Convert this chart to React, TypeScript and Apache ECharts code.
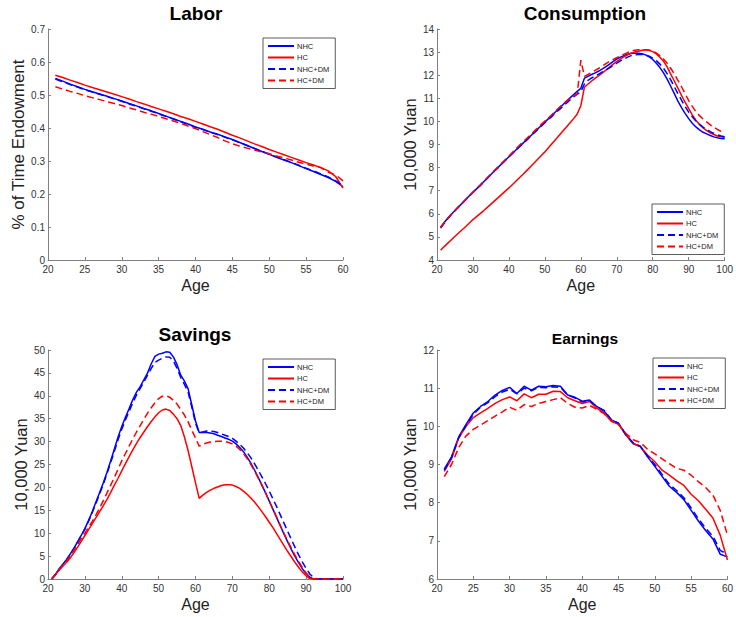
import React, { useEffect, useRef } from "react";
import * as echarts from "echarts";

// Ages
const agesWork = Array.from({ length: 40 }, (_, i) => 21 + i);
const agesLife = Array.from({ length: 80 }, (_, i) => 21 + i);

const seriesNames = ["NHC", "HC", "NHC+DM", "HC+DM"];

// Labor (% of time endowment), ages 21-60
const laborNHC = [0.550,0.542,0.533,0.525,0.517,0.510,0.503,0.496,0.489,0.482,
  0.474,0.467,0.459,0.452,0.444,0.436,0.428,0.420,0.412,0.403,
  0.396,0.388,0.381,0.373,0.365,0.356,0.347,0.338,0.329,0.320,
  0.311,0.303,0.295,0.286,0.277,0.268,0.259,0.250,0.238,0.222];
const laborHC = [0.560,0.553,0.545,0.538,0.530,0.523,0.516,0.509,0.502,0.495,
  0.488,0.480,0.473,0.465,0.458,0.451,0.443,0.435,0.428,0.420,
  0.412,0.404,0.396,0.387,0.378,0.370,0.361,0.352,0.344,0.335,
  0.327,0.319,0.311,0.303,0.295,0.288,0.280,0.270,0.253,0.218];
const laborNHCDM = [0.548,0.540,0.532,0.524,0.516,0.509,0.502,0.495,0.488,0.481,
  0.473,0.466,0.458,0.451,0.443,0.435,0.427,0.419,0.411,0.402,
  0.395,0.387,0.380,0.372,0.364,0.356,0.347,0.338,0.329,0.321,
  0.312,0.304,0.296,0.287,0.278,0.270,0.261,0.252,0.240,0.225];
const laborHCDM = [0.525,0.518,0.511,0.505,0.498,0.492,0.486,0.480,0.474,0.468,
  0.461,0.455,0.448,0.442,0.435,0.428,0.421,0.414,0.406,0.398,
  0.389,0.380,0.371,0.361,0.352,0.345,0.339,0.333,0.327,0.322,
  0.315,0.309,0.303,0.296,0.290,0.285,0.280,0.266,0.258,0.240];

// Consumption (10,000 Yuan), ages 21-100
const consNHC = [5.42,5.62,5.81,5.98,6.14,6.30,6.46,6.62,6.78,6.93,
  7.08,7.23,7.39,7.55,7.70,7.86,8.01,8.17,8.32,8.47,
  8.62,8.77,8.92,9.07,9.22,9.37,9.52,9.67,9.82,9.97,
  10.12,10.27,10.42,10.57,10.72,10.87,11.02,11.16,11.30,11.43,
  11.87,11.95,12.03,12.10,12.18,12.27,12.37,12.48,12.60,12.70,
  12.78,12.85,12.91,12.95,12.96,12.95,12.93,12.88,12.80,12.68,
  12.52,12.33,12.10,11.83,11.52,11.20,10.88,10.60,10.35,10.12,
  9.92,9.76,9.63,9.53,9.46,9.39,9.33,9.29,9.26,9.25];
const consHC = [4.42,4.58,4.73,4.88,5.03,5.17,5.31,5.45,5.60,5.75,
  5.88,6.01,6.14,6.28,6.42,6.56,6.70,6.84,6.98,7.12,
  7.27,7.42,7.57,7.72,7.88,8.04,8.20,8.36,8.52,8.68,
  8.86,9.04,9.22,9.40,9.58,9.76,9.94,10.12,10.32,10.68,
  11.48,11.62,11.75,11.87,11.98,12.10,12.22,12.35,12.48,12.60,
  12.70,12.80,12.88,12.95,13.00,13.04,13.08,13.10,13.08,13.02,
  12.92,12.78,12.60,12.36,12.05,11.75,11.44,11.13,10.83,10.55,
  10.28,10.05,9.87,9.72,9.60,9.50,9.43,9.37,9.33,9.30];
const consNHCDM = [5.38,5.59,5.79,5.97,6.13,6.29,6.45,6.61,6.77,6.92,
  7.07,7.22,7.38,7.54,7.69,7.85,8.00,8.16,8.31,8.46,
  8.61,8.76,8.91,9.05,9.20,9.35,9.50,9.64,9.79,9.94,
  10.08,10.22,10.37,10.51,10.65,10.79,10.93,11.06,11.18,11.28,
  11.62,11.78,11.88,11.96,12.05,12.14,12.23,12.32,12.42,12.52,
  12.62,12.70,12.78,12.85,12.88,12.90,12.90,12.87,12.82,12.74,
  12.63,12.48,12.30,12.07,11.80,11.50,11.20,10.92,10.65,10.40,
  10.20,10.02,9.87,9.75,9.65,9.56,9.48,9.42,9.37,9.34];
const consHCDM = [5.40,5.61,5.81,5.99,6.15,6.31,6.47,6.63,6.79,6.94,
  7.09,7.25,7.41,7.57,7.73,7.88,8.03,8.19,8.35,8.50,
  8.66,8.82,8.98,9.13,9.27,9.42,9.57,9.72,9.87,10.01,
  10.15,10.30,10.45,10.60,10.75,10.88,11.00,11.10,11.18,12.65,
  11.95,12.03,12.12,12.21,12.30,12.40,12.50,12.60,12.68,12.76,
  12.84,12.91,12.98,13.04,13.08,13.10,13.10,13.10,13.08,13.04,
  12.96,12.85,12.70,12.52,12.30,12.05,11.78,11.50,11.20,10.90,
  10.65,10.42,10.25,10.10,9.98,9.85,9.75,9.65,9.57,9.50];

// Savings (10,000 Yuan), ages 21-100
const savNHC = [0,1.0,2.2,3.2,4.2,5.4,6.7,8.1,9.5,11.0,
  12.8,14.7,16.8,18.9,21.0,23.3,25.8,28.4,31.0,33.3,
  35.3,37.2,39.2,40.8,42.0,43.5,45.0,47.0,48.6,49.1,
  49.3,49.6,49.5,48.5,46.8,44.5,43.2,41.5,38.0,34.5,
  32.0,32.0,32.0,31.9,31.7,31.4,31.1,30.8,30.5,30.1,
  29.5,28.7,27.8,26.6,25.3,23.8,22.2,20.5,18.8,17.0,
  15.2,13.4,11.6,9.8,8.1,6.4,4.9,3.5,2.2,1.2,
  0.4,0,0,0,0,0,0,0,0,0];
const savHC = [0,0.9,1.9,2.8,3.6,4.6,5.7,6.9,8.2,9.5,
  10.8,12.1,13.4,14.7,16.0,17.4,18.9,20.5,22.0,23.6,
  25.2,26.7,28.2,29.6,30.9,32.1,33.3,34.4,35.4,36.3,
  36.9,37.1,36.8,36.0,35.0,33.5,31.0,28.0,24.5,21.0,
  17.6,18.3,18.9,19.4,19.8,20.1,20.4,20.6,20.6,20.5,
  20.2,19.8,19.2,18.5,17.7,16.8,15.8,14.7,13.6,12.4,
  11.2,9.9,8.6,7.3,6.0,4.8,3.6,2.5,1.5,0.7,
  0.1,0,0,0,0,0,0,0,0,0];
const savNHCDM = [0,1.0,2.1,3.1,4.1,5.3,6.6,8.0,9.4,10.9,
  12.6,14.5,16.5,18.6,20.7,23.0,25.4,27.9,30.4,32.7,
  34.7,36.6,38.5,40.2,41.6,43.0,44.5,46.0,47.3,47.8,
  48.2,48.5,48.4,47.6,46.0,44.0,42.5,40.8,37.5,34.0,
  31.9,32.1,32.3,32.3,32.2,32.0,31.7,31.4,31.1,30.7,
  30.1,29.4,28.6,27.6,26.5,25.2,23.8,22.3,20.8,19.2,
  17.5,15.8,14.0,12.2,10.4,8.6,6.9,5.2,3.7,2.3,
  1.1,0.3,0,0,0,0,0,0,0,0];
const savHCDM = [0,0.9,2.0,3.0,3.9,5.0,6.2,7.5,8.8,10.0,
  11.3,12.6,14.0,15.5,17.1,18.8,20.5,22.2,24.0,25.8,
  27.4,29.0,30.6,32.1,33.5,34.9,36.2,37.4,38.5,39.4,
  39.9,40.0,39.7,39.0,38.2,37.0,35.8,34.3,32.5,30.8,
  29.0,29.4,29.7,29.9,30.0,30.1,30.1,30.0,29.8,29.5,
  29.0,28.3,27.4,26.3,25.0,23.6,22.1,20.5,18.8,17.0,
  15.3,13.5,11.7,10.0,8.3,6.7,5.2,3.8,2.5,1.3,
  0.4,0,0,0,0,0,0,0,0,0];

// Earnings (10,000 Yuan), ages 21-60
const earnNHC = [8.88,9.20,9.73,10.05,10.35,10.52,10.65,10.82,10.94,11.02,
  10.86,11.05,10.95,11.05,11.04,11.07,11.05,10.82,10.76,10.66,
  10.69,10.52,10.40,10.17,10.08,9.78,9.55,9.47,9.20,8.95,
  8.69,8.43,8.27,8.08,7.80,7.52,7.27,7.05,6.65,6.58];
const earnHC = [8.82,9.15,9.70,10.00,10.23,10.35,10.47,10.60,10.70,10.77,
  10.67,10.85,10.75,10.84,10.84,10.92,10.91,10.75,10.67,10.60,
  10.65,10.48,10.35,10.13,10.05,9.80,9.55,9.47,9.25,9.07,
  8.85,8.72,8.58,8.45,8.22,8.05,7.83,7.60,7.15,6.50];
const earnNHCDM = [8.85,9.18,9.70,10.02,10.32,10.50,10.62,10.78,10.90,10.97,
  10.85,11.00,10.93,11.02,11.01,11.04,11.02,10.82,10.74,10.64,
  10.67,10.52,10.42,10.18,10.08,9.78,9.57,9.48,9.22,9.00,
  8.74,8.48,8.32,8.13,7.86,7.58,7.33,7.12,6.75,6.65];
const earnHCDM = [8.68,9.00,9.45,9.75,9.92,10.03,10.15,10.27,10.38,10.50,
  10.42,10.57,10.52,10.60,10.65,10.70,10.75,10.60,10.50,10.48,
  10.55,10.45,10.33,10.15,10.05,9.82,9.65,9.58,9.40,9.28,
  9.15,9.02,8.90,8.85,8.72,8.55,8.40,8.20,7.80,7.15];

const FONT = "'Liberation Sans', Arial, Helvetica, sans-serif";
const BLUE = "#0000ff";
const RED = "#ff0000";
const styles = [
  { color: BLUE, type: "solid" },
  { color: RED, type: "solid" },
  { color: BLUE, type: [7, 4] },
  { color: RED, type: [7, 4] },
];

const pair = (ages: number[], vals: number[]) => ages.map((a, i) => [a, vals[i]]);

export default function App() {
  const ref = useRef<HTMLDivElement>(null);
  useEffect(() => {
    if (!ref.current) return;
    const chart = echarts.init(ref.current, undefined, { renderer: "svg" });

    const grids = [
      { left: 48, top: 29, width: 295, height: 231 },
      { left: 437, top: 29, width: 296, height: 231 },
      { left: 48, top: 350, width: 295, height: 229 },
      { left: 437, top: 350, width: 296, height: 229 },
    ];
    const axisCommon = {
      axisLine: { show: true, onZero: false, lineStyle: { color: "#808080", width: 1 } },
      axisTick: { show: true, inside: true, length: 3, lineStyle: { color: "#808080" } },
      axisLabel: { color: "#333", fontSize: 10, fontFamily: FONT, margin: 3 },
      splitLine: { show: false },
    };
    const xRanges = [
      [20, 60, 5],
      [20, 100, 10],
      [20, 100, 10],
      [20, 60, 5],
    ];
    const yRanges = [
      [0, 0.7, 0.1],
      [4, 14, 1],
      [0, 50, 5],
      [6, 12, 1],
    ];
    const yNames = ["% of Time Endowment", "10,000 Yuan", "10,000 Yuan", "10,000 Yuan"];
    const yGaps = [17, 15, 15, 16];
    const xAxis = xRanges.map((r, i) => ({
      type: "value",
      gridIndex: i,
      min: r[0],
      max: r[1],
      interval: r[2],
      name: "Age",
      nameLocation: "middle",
      nameGap: 17,
      nameTextStyle: { fontSize: 16, color: "#222", fontFamily: FONT },
      ...axisCommon,
      axisLabel: { ...axisCommon.axisLabel, margin: 4, alignMaxLabel: "center", alignMinLabel: "center" },
    }));
    const yAxis = yRanges.map((r, i) => ({
      type: "value",
      gridIndex: i,
      min: r[0],
      max: r[1],
      interval: r[2],
      name: yNames[i],
      nameLocation: "middle",
      nameGap: yGaps[i],
      nameTextStyle: { fontSize: i === 0 ? 17 : 16.5, color: "#222", fontFamily: FONT },
      ...axisCommon,
    }));

    const panelData = [
      [laborNHC, laborHC, laborNHCDM, laborHCDM],
      [consNHC, consHC, consNHCDM, consHCDM],
      [savNHC, savHC, savNHCDM, savHCDM],
      [earnNHC, earnHC, earnNHCDM, earnHCDM],
    ];
    const panelAges = [agesWork, agesLife, agesLife, agesWork];
    const series: any[] = [];
    panelData.forEach((arrs, p) => {
      arrs.forEach((vals, k) => {
        series.push({
          type: "line",
          name: seriesNames[k],
          xAxisIndex: p,
          yAxisIndex: p,
          data: pair(panelAges[p], vals),
          symbol: "none",
          smooth: false,
          lineStyle: { color: styles[k].color, width: 1.5, type: styles[k].type },
          itemStyle: { color: styles[k].color },
          z: 2 + k,
        });
      });
    });

    const legendPos = [
      { left: 263, top: 38 },
      { left: 652, top: 204 },
      { left: 263, top: 359 },
      { left: 653, top: 358 },
    ];
    const legend = legendPos.map((pos) => ({
      ...pos,
      orient: "vertical",
      data: seriesNames,
      itemWidth: 26,
      itemHeight: 7,
      itemGap: 3.5,
      padding: [4, 6, 4, 4],
      borderColor: "#333",
      borderWidth: 0.8,
      backgroundColor: "#fff",
      selectedMode: false,
      itemStyle: { opacity: 0, borderWidth: 0 },
      textStyle: { fontSize: 7.5, color: "#222", fontFamily: FONT, padding: [0, 0, 0, -2] },
    }));

    const titles = [
      { text: "Labor", left: 196, top: 4, size: 19 },
      { text: "Consumption", left: 585, top: 4, size: 19 },
      { text: "Savings", left: 195, top: 325, size: 19 },
      { text: "Earnings", left: 585, top: 330, size: 15.5 },
    ].map((t) => ({
      text: t.text,
      left: t.left,
      top: t.top,
      textAlign: "center",
      padding: 0,
      textStyle: { fontSize: t.size, fontWeight: "bold", color: "#000", fontFamily: FONT },
    }));

    chart.setOption({
      animation: false,
      backgroundColor: "#fff",
      title: titles,
      grid: grids,
      xAxis,
      yAxis,
      legend,
      series,
    });
    return () => chart.dispose();
  }, []);
  return (
    <div
      ref={ref}
      style={{ position: "fixed", left: 0, top: 0, width: 736, height: 617, background: "#fff" }}
    />
  );
}
